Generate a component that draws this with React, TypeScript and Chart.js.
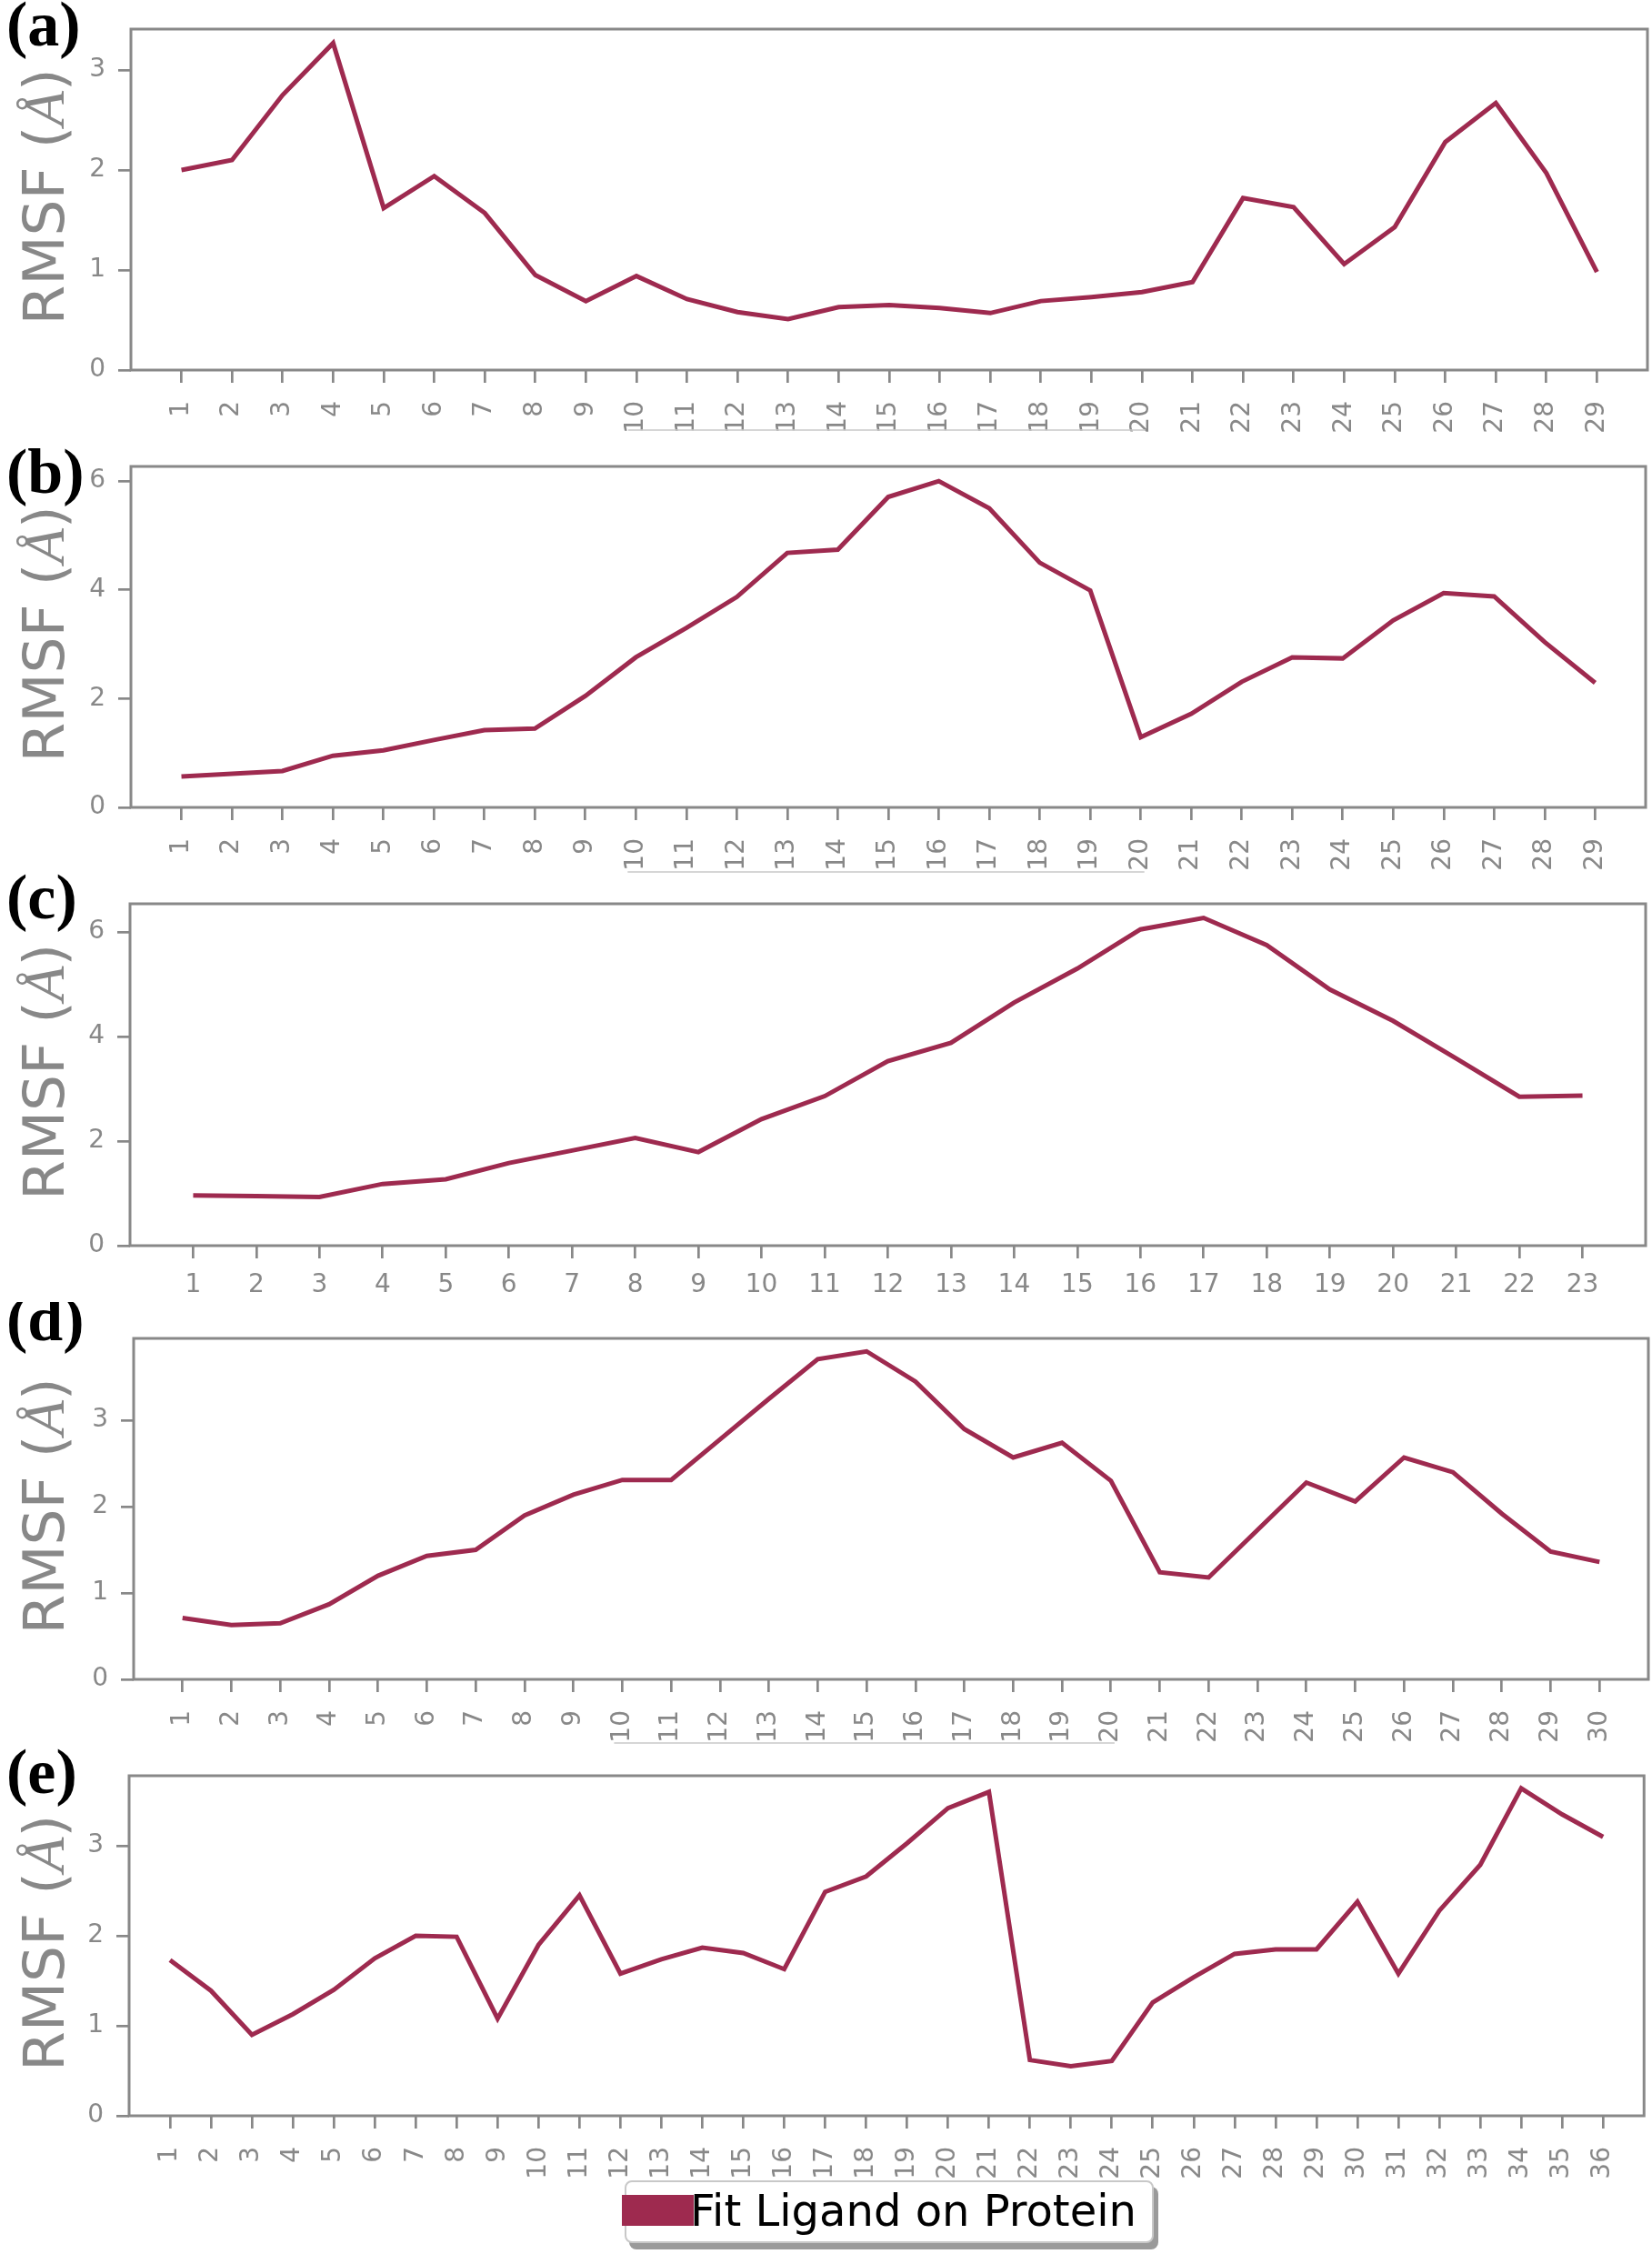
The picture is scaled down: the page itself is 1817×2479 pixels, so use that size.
import React, { useEffect, useRef } from "react";
import { Chart, registerables } from "chart.js";

Chart.register(...registerables);

// ---------------- data ----------------
const residuesA = [1, 2, 3, 4, 5, 6, 7, 8, 9, 10, 11, 12, 13, 14, 15, 16, 17, 18, 19, 20, 21, 22, 23, 24, 25, 26, 27, 28, 29];
const rmsfA = [2.0, 2.1, 2.75, 3.27, 1.62, 1.94, 1.57, 0.95, 0.69, 0.94, 0.71, 0.58, 0.51, 0.63, 0.65, 0.62, 0.57, 0.69, 0.73, 0.78, 0.88, 1.72, 1.63, 1.06, 1.43, 2.28, 2.67, 1.97, 0.98];

const residuesB = [1, 2, 3, 4, 5, 6, 7, 8, 9, 10, 11, 12, 13, 14, 15, 16, 17, 18, 19, 20, 21, 22, 23, 24, 25, 26, 27, 28, 29];
const rmsfB = [0.57, 0.62, 0.67, 0.95, 1.05, 1.24, 1.42, 1.45, 2.05, 2.76, 3.3, 3.87, 4.68, 4.74, 5.71, 6.0, 5.5, 4.5, 3.99, 1.29, 1.72, 2.31, 2.76, 2.74, 3.44, 3.94, 3.88, 3.04, 2.29];

const residuesC = [1, 2, 3, 4, 5, 6, 7, 8, 9, 10, 11, 12, 13, 14, 15, 16, 17, 18, 19, 20, 21, 22, 23];
const rmsfC = [0.96, 0.95, 0.93, 1.18, 1.27, 1.58, 1.82, 2.06, 1.79, 2.42, 2.86, 3.53, 3.88, 4.65, 5.3, 6.05, 6.27, 5.75, 4.9, 4.3, 3.58, 2.85, 2.87];

const residuesD = [1, 2, 3, 4, 5, 6, 7, 8, 9, 10, 11, 12, 13, 14, 15, 16, 17, 18, 19, 20, 21, 22, 23, 24, 25, 26, 27, 28, 29, 30];
const rmsfD = [0.71, 0.63, 0.65, 0.87, 1.2, 1.43, 1.5, 1.9, 2.14, 2.31, 2.31, 2.78, 3.25, 3.71, 3.8, 3.45, 2.9, 2.57, 2.74, 2.3, 1.24, 1.18, 1.73, 2.28, 2.06, 2.57, 2.4, 1.92, 1.48, 1.36];

const residuesE = [1, 2, 3, 4, 5, 6, 7, 8, 9, 10, 11, 12, 13, 14, 15, 16, 17, 18, 19, 20, 21, 22, 23, 24, 25, 26, 27, 28, 29, 30, 31, 32, 33, 34, 35, 36];
const rmsfE = [1.73, 1.39, 0.9, 1.13, 1.4, 1.75, 2.0, 1.99, 1.08, 1.9, 2.45, 1.58, 1.74, 1.87, 1.81, 1.63, 2.49, 2.66, 3.03, 3.42, 3.6, 0.62, 0.55, 0.61, 1.26, 1.54, 1.8, 1.85, 1.85, 2.38, 1.58, 2.28, 2.79, 3.64, 3.35, 3.1];

const panelLetters = ["(a)", "(b)", "(c)", "(d)", "(e)"];
const yTitleMain = "RMSF (";
const yTitleUnit = "Å";
const yTitleEnd = ")";
const legendLabel = "Fit Ligand on Protein";

// ---------------- style ----------------
const LINE_COLOR = "#9E2A4F";
const AXIS_COLOR = "#888888";
const TEXT_GRAY = "#888888";
const PAGE_W = 1817;
const PAD_TOP = 40;
const TICK_FONT = 28;

type PanelCfg = {
  letter: string;
  residues: number[];
  values: number[];
  yMax: number;
  yStep: number;
  rotate: boolean;
  frameTop: number;
  frameBottom: number;
  frameLeft: number;
  frameRight: number;
  letterBaseline: number;
  underlineOffset: number | null;
};

const panels: PanelCfg[] = [
  { letter: panelLetters[0], residues: residuesA, values: rmsfA, yMax: 3.41, yStep: 1, rotate: true, frameTop: 32, frameBottom: 407, frameLeft: 144, frameRight: 1812, letterBaseline: 50, underlineOffset: 66 },
  { letter: panelLetters[1], residues: residuesB, values: rmsfB, yMax: 6.27, yStep: 2, rotate: true, frameTop: 513, frameBottom: 888, frameLeft: 144, frameRight: 1810, letterBaseline: 542, underlineOffset: 71 },
  { letter: panelLetters[2], residues: residuesC, values: rmsfC, yMax: 6.54, yStep: 2, rotate: false, frameTop: 994, frameBottom: 1370, frameLeft: 143, frameRight: 1810, letterBaseline: 1010, underlineOffset: null },
  { letter: panelLetters[3], residues: residuesD, values: rmsfD, yMax: 3.95, yStep: 1, rotate: true, frameTop: 1472, frameBottom: 1847, frameLeft: 147, frameRight: 1813, letterBaseline: 1474, underlineOffset: 70 },
  { letter: panelLetters[4], residues: residuesE, values: rmsfE, yMax: 3.78, yStep: 1, rotate: true, frameTop: 1953, frameBottom: 2327, frameLeft: 142, frameRight: 1810, letterBaseline: 1972, underlineOffset: null },
];

function Panel({ cfg }: { cfg: PanelCfg }) {
  const ref = useRef<HTMLCanvasElement | null>(null);
  const bottomRoom = cfg.rotate ? 95 : 65;
  const frameH = cfg.frameBottom - cfg.frameTop;
  const H = PAD_TOP + frameH + bottomRoom;
  const canvasTop = cfg.frameTop - PAD_TOP;

  useEffect(() => {
    if (!ref.current) return;
    const n = cfg.residues.length;
    const rot = cfg.rotate ? 90 : 0;

    const decor = {
      id: "decor",
      afterDraw(chart: any) {
        const ctx = chart.ctx;
        const a = chart.chartArea;
        ctx.save();
        ctx.strokeStyle = AXIS_COLOR;
        ctx.lineWidth = 3;
        ctx.strokeRect(a.left, a.top, a.right - a.left, a.bottom - a.top);

        const cy = (a.top + a.bottom) / 2 - 3;
        ctx.translate(70, cy);
        ctx.rotate(-Math.PI / 2);
        ctx.fillStyle = TEXT_GRAY;
        ctx.textBaseline = "alphabetic";
        ctx.textAlign = "left";
        const sans = '63px "DejaVu Sans"';
        const serif = 'italic 63px "Liberation Serif"';
        ctx.font = sans;
        const w1 = ctx.measureText(yTitleMain).width;
        const w3 = ctx.measureText(yTitleEnd).width;
        ctx.font = serif;
        const w2 = ctx.measureText(yTitleUnit).width;
        let x = -(w1 + w2 + w3) / 2;
        ctx.font = sans;
        ctx.fillText(yTitleMain, x, 0);
        x += w1;
        ctx.font = serif;
        ctx.fillText(yTitleUnit, x, 0);
        x += w2;
        ctx.font = sans;
        ctx.fillText(yTitleEnd, x, 0);
        ctx.restore();

        ctx.save();
        ctx.fillStyle = "#000";
        ctx.font = 'bold 70px "Liberation Serif"';
        ctx.textBaseline = "alphabetic";
        ctx.textAlign = "left";
        ctx.fillText(cfg.letter, 7, cfg.letterBaseline - canvasTop);
        ctx.restore();

        if (cfg.underlineOffset !== null) {
          const xs = chart.scales.x;
          ctx.save();
          ctx.strokeStyle = "#c8c8c8";
          ctx.lineWidth = 1.5;
          ctx.beginPath();
          const y = a.bottom + cfg.underlineOffset;
          ctx.moveTo(xs.getPixelForValue(10) - 9, y);
          ctx.lineTo(xs.getPixelForValue(20) + 4, y);
          ctx.stroke();
          ctx.restore();
        }
      },
    };

    const chart = new Chart(ref.current, {
      type: "line",
      data: {
        datasets: [
          {
            label: legendLabel,
            data: cfg.residues.map((r, i) => ({ x: r, y: cfg.values[i] })),
            borderColor: LINE_COLOR,
            backgroundColor: LINE_COLOR,
            borderWidth: 5,
            pointRadius: 0,
            tension: 0,
            fill: false,
          },
        ],
      },
      options: {
        animation: false,
        responsive: false,
        maintainAspectRatio: false,
        devicePixelRatio: 1,
        layout: { padding: { top: PAD_TOP, right: PAGE_W - cfg.frameRight, bottom: 0, left: 0 } },
        plugins: { legend: { display: false }, tooltip: { enabled: false }, title: { display: false } },
        scales: {
          x: {
            type: "linear",
            min: 0,
            max: n + 1,
            border: { display: false },
            grid: { drawOnChartArea: false, drawTicks: true, tickLength: 14, color: AXIS_COLOR, lineWidth: 2.7 },
            ticks: {
              stepSize: 1,
              autoSkip: false,
              minRotation: rot,
              maxRotation: rot,
              padding: cfg.rotate ? 20 : 13,
              color: TEXT_GRAY,
              font: { family: "DejaVu Sans", size: TICK_FONT },
              callback: (v: any) => String(v),
            },
            afterBuildTicks: (s: any) => {
              s.ticks = s.ticks.filter((t: any) => t.value >= 1 && t.value <= n && Number.isInteger(t.value));
            },
            afterFit: (s: any) => {
              s.height = bottomRoom;
            },
          },
          y: {
            min: 0,
            max: cfg.yMax,
            border: { display: false },
            grid: { drawOnChartArea: false, drawTicks: true, tickLength: 14, color: AXIS_COLOR, lineWidth: 2.7 },
            ticks: {
              stepSize: cfg.yStep,
              includeBounds: false,
              padding: 14,
              color: TEXT_GRAY,
              font: { family: "DejaVu Sans", size: TICK_FONT },
            },
            afterFit: (s: any) => {
              s.width = cfg.frameLeft;
            },
          },
        },
      } as any,
      plugins: [decor],
    });
    return () => chart.destroy();
  }, []);

  return (
    <canvas
      ref={ref}
      width={PAGE_W}
      height={H}
      style={{ position: "absolute", left: 0, top: canvasTop, width: PAGE_W, height: H, display: "block" }}
    />
  );
}

export default function App() {
  return (
    <div style={{ position: "absolute", left: 0, top: 0, width: PAGE_W, height: 2479, background: "#fff", overflow: "hidden" }}>
      {panels.map((p) => (
        <Panel key={p.letter} cfg={p} />
      ))}
      <div
        style={{
          position: "absolute",
          left: 687,
          top: 2398,
          width: 578,
          height: 65,
          background: "#fff",
          border: "2px solid #c8c8c8",
          borderRadius: 8,
          boxShadow: "5px 7px 0 #9a9a9a",
        }}
      >
        <div style={{ position: "absolute", left: -5, top: 14, width: 79, height: 34, background: LINE_COLOR }} />
        <div
          style={{
            position: "absolute",
            left: 70,
            top: 7,
            fontFamily: '"DejaVu Sans"',
            fontSize: 48,
            lineHeight: "48px",
            color: "#000",
            whiteSpace: "nowrap",
          }}
        >
          {legendLabel}
        </div>
      </div>
    </div>
  );
}
